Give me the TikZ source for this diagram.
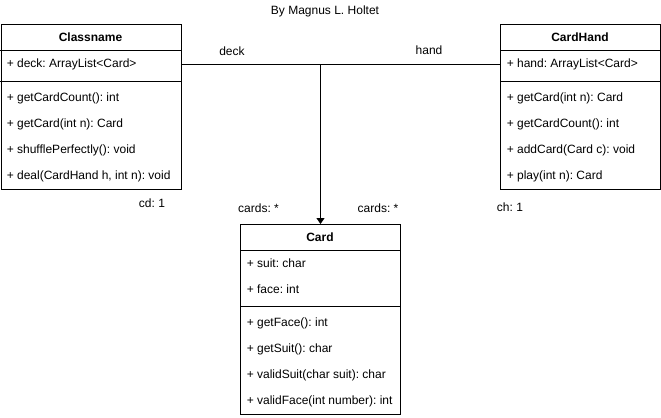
\documentclass[tikz,border=0pt]{standalone}
\usepackage{fontspec}
\setmainfont{Liberation Sans}
\usetikzlibrary{arrows.meta,positioning}
\frenchspacing

\tikzset{
  classbox/.style={draw, line width=0.75pt, anchor=north west, inner sep=0pt},
  sepline/.style={line width=0.75pt},
  rowtext/.style={anchor=west, inner sep=0pt, font=\fontsize{9}{11}\selectfont},
  headtext/.style={inner sep=0pt, font=\fontsize{9}{11}\selectfont\bfseries},
  labeltext/.style={inner sep=0pt, font=\fontsize{9}{11}\selectfont},
}

\begin{document}
\begin{tikzpicture}[x=0.75pt,y=0.75pt,yscale=-1,xscale=1]
\useasboundingbox (0,0) rectangle (661,418);

%Shape: Class box Classname
\node[classbox, minimum width=135.375pt, minimum height=123.75pt] (classname) at (0.5,24) {};
\draw[sepline] (0.5,50) -- (181,50);
\draw[sepline] (0.5,81) -- (181,81);
%Shape: Class box CardHand
\node[classbox, minimum width=120pt, minimum height=123.75pt] (cardhand) at (500,24) {};
\draw[sepline] (500,50) -- (660,50);
\draw[sepline] (500,81) -- (660,81);
%Shape: Class box Card
\node[classbox, minimum width=120pt, minimum height=142.5pt] (card) at (240,224) {};
\draw[sepline] (240,250) -- (400,250);
\draw[sepline] (240,306) -- (400,306);

% Text Node
\node[labeltext] (author) at (325,11) {By Magnus L. Holtet};

% Text Node
\node[headtext] (classnamehead) at (90.5,37.5) {Classname};
% Text Node
\node[rowtext] (deckrow) at (6.5,64) {+ deck: ArrayList<Card>};
% Text Node
\node[rowtext] (cdcount) at (6.5,98) {+ getCardCount(): int};
% Text Node
\node[rowtext] (cdget) at (6.5,124) {+ getCard(int n): Card};
% Text Node
\node[rowtext] (cdshuffle) at (6.5,150) {+ shufflePerfectly(): void};
% Text Node
\node[rowtext] (cddeal) at (6.5,176) {+ deal(CardHand h, int n): void};

% Text Node
\node[headtext] (cardhandhead) at (580,37.5) {CardHand};
% Text Node
\node[rowtext] (handrow) at (506.5,64) {+ hand: ArrayList<Card>};
% Text Node
\node[rowtext] (chget) at (506.5,98) {+ getCard(int n): Card};
% Text Node
\node[rowtext] (chcount) at (506.5,124) {+ getCardCount(): int};
% Text Node
\node[rowtext] (chadd) at (506.5,150) {+ addCard(Card c): void};
% Text Node
\node[rowtext] (chplay) at (506.5,176) {+ play(int n): Card};

% Text Node
\node[headtext] (cardhead) at (320,237.5) {Card};
% Text Node
\node[rowtext] (suitrow) at (246.5,263) {+ suit: char};
% Text Node
\node[rowtext] (facerow) at (246.5,289) {+ face: int};
% Text Node
\node[rowtext] (getface) at (246.5,323) {+ getFace(): int};
% Text Node
\node[rowtext] (getsuit) at (246.5,349) {+ getSuit(): char};
% Text Node
\node[rowtext] (validsuit) at (246.5,375) {+ validSuit(char suit): char};
% Text Node
\node[rowtext] (validface) at (246.5,401) {+ validFace(int number): int};

%Straight Lines: deck -- hand
\draw[sepline] (deckrow -| classname.east) -- (handrow -| cardhand.west);
%Straight Lines: arrow down to Card
\coordinate (fork) at (card.north |- deckrow);
\draw[sepline, -{Triangle[width=6pt,length=4.5pt]}] (fork) -- (card.north);

% Text Node
\node[labeltext] (decklabel) at (232,51) {deck};
% Text Node
\node[labeltext] (handlabel) at (429,50) {hand};
% Text Node
\node[labeltext] (cdlabel) at (152,203.5) {cd: 1};
% Text Node
\node[labeltext] (cardsleft) at (258.5,208) {cards: *};
% Text Node
\node[labeltext] (cardsright) at (378,208) {cards: *};
% Text Node
\node[labeltext] (chlabel) at (510,207) {ch: 1};

\end{tikzpicture}
\end{document}
